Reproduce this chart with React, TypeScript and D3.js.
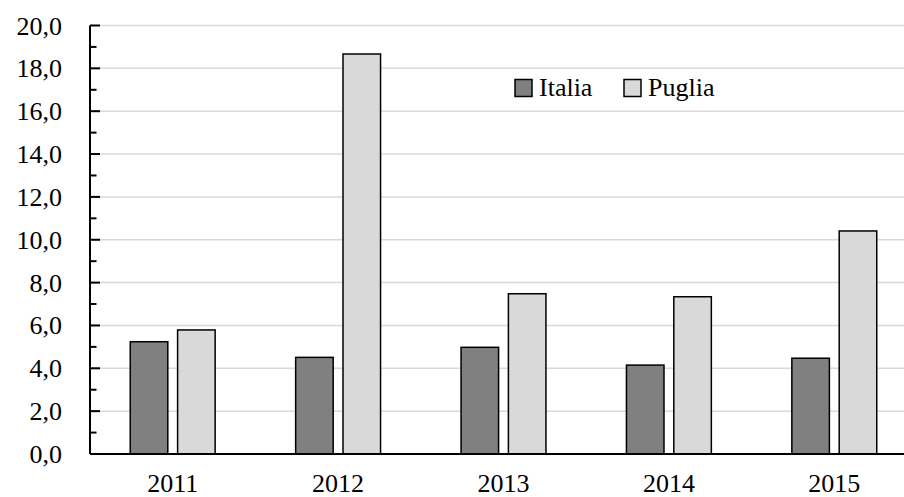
import * as d3 from "d3";

// data
const years = ["2011", "2012", "2013", "2014", "2015"];
const italia = [5.24, 4.51, 4.98, 4.15, 4.47];
const puglia = [5.79, 18.67, 7.48, 7.34, 10.41];
const seriesNames = ["Italia", "Puglia"];
const seriesColors = ["#808080", "#d9d9d9"];
const yTicks = [0, 2, 4, 6, 8, 10, 12, 14, 16, 18, 20];

const width = 904,
	height = 497;
const margin = { top: 25.5, left: 90, bottom: 43 };
const plotRight = 917; // the original is cut off on the right

const textStyle = { fontFamily: "'Liberation Serif'", fontSize: 26 };

export default function App() {
	const y = d3.scaleLinear().domain([0, 20]).range([height - margin.bottom, margin.top]);
	const x = d3.scaleBand().domain(years).range([margin.left, plotRight]).padding(0);
	const inner = d3.scaleBand().domain(seriesNames).range([0, x.bandwidth()]).paddingInner(0.207).paddingOuter(0.85);
	const fmt = d3.format(".1f");
	const minorTicks = yTicks.slice(0, -1).map((d) => d + 1);
	const legendX = [515, 624];

	return (
		<svg width={width} height={height} style={{ position: "absolute", left: 0, top: 0, background: "#fff" }}>
			{/* gridlines */}
			{yTicks.slice(1).map((t) => (
				<line key={t} x1={margin.left} x2={plotRight} y1={y(t)} y2={y(t)} stroke="#d9d9d9" strokeWidth={1.5} />
			))}

			{/* bars */}
			{years.map((yr, i) => (
				<g key={yr} transform={`translate(${x(yr)},0)`}>
					{[italia[i], puglia[i]].map((v, j) => (
						<rect
							key={j}
							x={inner(seriesNames[j])}
							width={inner.bandwidth()}
							y={y(v)}
							height={y(0) - y(v)}
							fill={seriesColors[j]}
							stroke="#000"
							strokeWidth={1.5}
						/>
					))}
				</g>
			))}

			{/* y axis */}
			<g transform={`translate(${margin.left},0)`}>
				<line x1={0} x2={0} y1={y(20)} y2={y(0)} stroke="#000" strokeWidth={2} />
				{yTicks.map((t) => (
					<line key={"M" + t} x1={0} x2={10} y1={y(t)} y2={y(t)} stroke="#000" strokeWidth={2} />
				))}
				{minorTicks.map((t) => (
					<line key={"m" + t} x1={0} x2={6.5} y1={y(t)} y2={y(t)} stroke="#000" strokeWidth={2} />
				))}
				{yTicks.map((t) => (
					<text key={"l" + t} x={-28} y={y(t) + 9} textAnchor="end" fill="#000" style={textStyle}>
						{fmt(t).replace(".", ",")}
					</text>
				))}
			</g>

			{/* x axis */}
			<line x1={margin.left} x2={plotRight} y1={y(0)} y2={y(0)} stroke="#000" strokeWidth={2} />
			{years.map((yr) => (
				<text key={yr} x={x(yr)! + x.bandwidth() / 2} y={492} textAnchor="middle" fill="#000" style={textStyle}>
					{yr}
				</text>
			))}

			{/* legend */}
			{seriesNames.map((s, i) => (
				<g key={s} transform={`translate(${legendX[i]},79.5)`}>
					<rect width={17} height={17} fill={seriesColors[i]} stroke="#000" strokeWidth={1.5} />
					<text x={24} y={16.5} fill="#000" style={textStyle}>
						{s}
					</text>
				</g>
			))}
		</svg>
	);
}
